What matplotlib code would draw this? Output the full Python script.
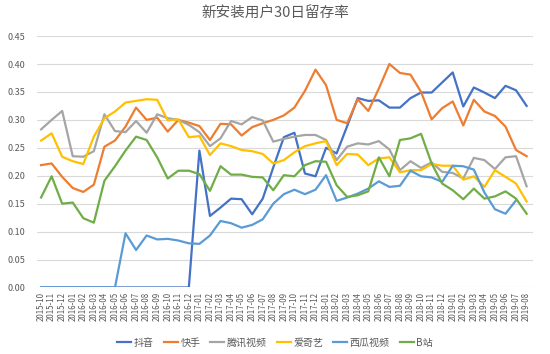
#!/usr/bin/env python3
import matplotlib
matplotlib.use("Agg")
import matplotlib.pyplot as plt
import numpy as np
import pandas as pd

plt.rcParams["font.family"] = ["Noto Sans CJK SC", "DejaVu Sans"]

# monthly categories, 2015-10 .. 2019-08
months = [str(p) for p in pd.period_range("2015-10", "2019-08", freq="M")]

douyin = [0, 0, 0, 0, 0, 0, 0, 0, 0, 0, 0, 0, 0, 0, 0,
          0.245, 0.128, 0.143, 0.159, 0.158, 0.131, 0.159, 0.215, 0.269, 0.277,
          0.204, 0.199, 0.250, 0.240, 0.289, 0.339, 0.334, 0.335, 0.322, 0.322,
          0.339, 0.349, 0.349, 0.367, 0.385, 0.324, 0.358, 0.349, 0.339, 0.361,
          0.353, 0.325]
kuaishou = [0.219, 0.222, 0.198, 0.178, 0.171, 0.184, 0.252, 0.263, 0.288, 0.322,
            0.300, 0.304, 0.279, 0.300, 0.295, 0.289, 0.264, 0.293, 0.292, 0.272,
            0.287, 0.294, 0.300, 0.308, 0.322, 0.352, 0.390, 0.362, 0.300, 0.294,
            0.337, 0.316, 0.356, 0.400, 0.384, 0.381, 0.350, 0.301, 0.321, 0.333,
            0.290, 0.336, 0.315, 0.307, 0.288, 0.246, 0.235]
tencent = [0.283, 0.300, 0.316, 0.235, 0.234, 0.244, 0.310, 0.280, 0.278, 0.298,
           0.277, 0.310, 0.303, 0.300, 0.291, 0.278, 0.253, 0.267, 0.298, 0.292,
           0.305, 0.299, 0.261, 0.266, 0.270, 0.273, 0.273, 0.264, 0.228, 0.252,
           0.258, 0.256, 0.262, 0.247, 0.210, 0.226, 0.214, 0.224, 0.207, 0.205,
           0.195, 0.232, 0.228, 0.212, 0.233, 0.235, 0.181]
iqiyi = [0.263, 0.276, 0.234, 0.226, 0.221, 0.270, 0.303, 0.315, 0.331, 0.334,
         0.337, 0.336, 0.299, 0.301, 0.269, 0.271, 0.237, 0.258, 0.253, 0.246,
         0.244, 0.239, 0.222, 0.228, 0.242, 0.253, 0.258, 0.262, 0.219, 0.239,
         0.238, 0.219, 0.231, 0.233, 0.206, 0.210, 0.210, 0.221, 0.218, 0.218,
         0.193, 0.199, 0.180, 0.210, 0.198, 0.186, 0.154]
xigua = [0, 0, 0, 0, 0, 0, 0, 0,
         0.097, 0.067, 0.093, 0.086, 0.087, 0.084, 0.079, 0.078, 0.093, 0.119,
         0.115, 0.107, 0.112, 0.122, 0.150, 0.167, 0.175, 0.167, 0.175, 0.201,
         0.155, 0.161, 0.168, 0.177, 0.190, 0.180, 0.182, 0.209, 0.199, 0.197,
         0.189, 0.218, 0.217, 0.211, 0.170, 0.140, 0.132, 0.156, np.nan]
bilibili = [0.161, 0.199, 0.150, 0.152, 0.124, 0.116, 0.191, 0.217, 0.245, 0.270,
            0.264, 0.233, 0.195, 0.209, 0.209, 0.203, 0.173, 0.217, 0.202, 0.202,
            0.198, 0.197, 0.174, 0.201, 0.199, 0.219, 0.226, 0.225, 0.183, 0.162,
            0.165, 0.172, 0.233, 0.199, 0.264, 0.267, 0.275, 0.222, 0.186, 0.174,
            0.158, 0.177, 0.159, 0.163, 0.172, 0.159, 0.132]

series = [
    ("抖音", douyin, "#4472C4"),
    ("快手", kuaishou, "#ED7D31"),
    ("腾讯视频", tencent, "#A5A5A5"),
    ("爱奇艺", iqiyi, "#FFC000"),
    ("西瓜视频", xigua, "#5B9BD5"),
    ("B站", bilibili, "#70AD47"),
]

fig = plt.figure(figsize=(5.5, 3.54), dpi=100)
ax = fig.add_axes([0.067, 0.188, 0.902, 0.71])

x = np.arange(len(months))
for name, vals, color in series:
    ax.plot(x, vals, color=color, lw=1.6, label=name)

ax.set_xlim(-0.4, len(months) - 0.4)
ax.set_ylim(0, 0.45)
ax.set_yticks(np.arange(0, 0.451, 0.05))
ax.yaxis.set_major_formatter(matplotlib.ticker.FormatStrFormatter("%.2f"))
ax.set_xticks(x)
ax.set_xticklabels(months, rotation=90)
ax.grid(axis="y", color="#D9D9D9", lw=0.8)
ax.set_axisbelow(True)
for s in ax.spines.values():
    s.set_visible(False)
ax.tick_params(axis="y", length=0, labelsize=6.5, labelcolor="#595959", pad=8)
ax.tick_params(axis="x", length=0, labelsize=5.7, labelcolor="#595959", pad=3)

fig.suptitle("新安装用户30日留存率", y=0.98, fontsize=10.5, color="#595959")

fig.legend(loc="center", bbox_to_anchor=(0.5, 0.032), ncol=6, frameon=False,
           fontsize=7.2, handlelength=1.4, handletextpad=0.25, columnspacing=1.0,
           labelcolor="#595959")

fig.savefig("out.png", dpi=100)
